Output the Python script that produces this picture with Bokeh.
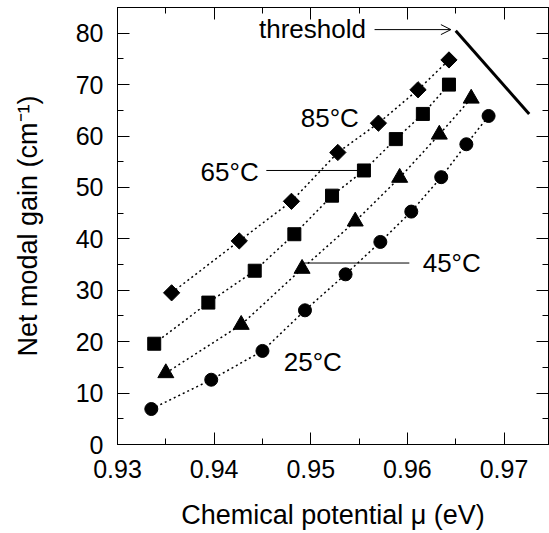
from bokeh.plotting import figure
from bokeh.models import Range1d, LinearAxis, SingleIntervalTicker, Arrow, OpenHead, CustomJSTickFormatter
from bokeh.core.properties import value
from bokeh.embed import file_html
from bokeh.resources import INLINE
import numpy as np

# ---- data ----
mu_85 = [0.9356, 0.9426, 0.9480, 0.9528, 0.9570, 0.9611, 0.9643]
gain_85 = [29.5, 39.6, 47.3, 56.8, 62.5, 69.0, 74.8]

mu_65 = [0.9338, 0.9394, 0.9442, 0.9483, 0.9522, 0.9555, 0.9588, 0.9616, 0.9643]
gain_65 = [19.6, 27.6, 33.8, 40.9, 48.4, 53.3, 59.4, 64.3, 70.0]

mu_45 = [0.9350, 0.9428, 0.9491, 0.9546, 0.9592, 0.9633, 0.9666]
gain_45 = [13.9, 23.3, 34.2, 43.4, 51.9, 60.3, 67.3]

mu_25 = [0.9335, 0.9397, 0.9450, 0.9494, 0.9536, 0.9572, 0.9604, 0.9635, 0.9661, 0.9684]
gain_25 = [6.9, 12.6, 18.2, 26.1, 33.1, 39.4, 45.3, 52.0, 58.4, 63.9]

threshold_mu = [0.9650, 0.9726]
threshold_gain = [80.5, 64.3]

labels = ["85°C", "65°C", "45°C", "25°C"]
label_mu = [0.94896, 0.93860, 0.96158, 0.94720]
label_gain = [63.6, 53.1, 35.3, 16.0]

FONT = "Liberation Sans"

p = figure(width=549, height=533, output_backend="svg", toolbar_location=None,
           x_range=Range1d(0.93, 0.9746), y_range=Range1d(0, 85),
           min_border_left=117, min_border_right=1, min_border_top=7, min_border_bottom=89)
p.xgrid.visible = False
p.ygrid.visible = False
p.outline_line_color = "black"
p.outline_line_width = 1
p.background_fill_color = "white"
p.border_fill_color = "white"

xt = SingleIntervalTicker(interval=0.01, num_minor_ticks=2)
yt = SingleIntervalTicker(interval=10, num_minor_ticks=2)

def style_axis(ax):
    ax.axis_line_color = "black"
    ax.major_tick_line_color = "black"
    ax.minor_tick_line_color = "black"
    ax.major_tick_in = 12
    ax.major_tick_out = 0
    ax.minor_tick_in = 6
    ax.minor_tick_out = 0
    ax.major_label_text_font = FONT
    ax.major_label_text_font_size = "25px"
    ax.major_label_text_color = "black"
    ax.axis_label_text_font = FONT
    ax.axis_label_text_font_size = "27px"
    ax.axis_label_text_font_style = "normal"
    ax.axis_label_text_color = "black"

p.xaxis.ticker = xt
p.yaxis.ticker = yt
style_axis(p.xaxis[0])
style_axis(p.yaxis[0])
p.xaxis.axis_label = "Chemical potential μ (eV)"
p.yaxis.axis_label = "Net modal gain (cm⁻¹)"
p.xaxis.major_label_standoff = 15
p.xaxis.axis_label_standoff = 19
p.yaxis.major_label_standoff = 14
p.yaxis.axis_label_standoff = 30

blank = CustomJSTickFormatter(code="return ''")
top = LinearAxis(ticker=SingleIntervalTicker(interval=0.01, num_minor_ticks=2), formatter=blank)
right = LinearAxis(ticker=SingleIntervalTicker(interval=10, num_minor_ticks=2), formatter=blank)
for ax in (top, right):
    style_axis(ax)
    ax.major_label_standoff = 0
p.add_layout(top, "above")
p.add_layout(right, "right")

dash = "2 3"
series = [
    (mu_85, gain_85, "square", 11.5, np.pi / 4),
    (mu_65, gain_65, "square", 13, 0),
    (mu_45, gain_45, "triangle", 16, 0),
    (mu_25, gain_25, "circle", 13, 0),
]
for mu, g, marker, size, ang in series:
    p.line(mu, g, line_color="black", line_width=1.5, line_dash=dash)
    p.scatter(mu, g, marker=marker, size=size, angle=ang,
              fill_color="black", line_color="black")

# threshold line
p.line(threshold_mu, threshold_gain, line_color="black", line_width=3)

# annotations
p.text(x=label_mu, y=label_gain, text=labels, text_font=value(FONT),
       text_font_size="26px", text_baseline="middle", text_align="left", text_color="black")
p.text(x=[0.94464], y=[80.9], text=["threshold"], text_font=value(FONT),
       text_font_size="26px", text_baseline="middle", text_align="left", text_color="black")
p.add_layout(Arrow(end=OpenHead(size=10, line_width=1, line_color="black"),
                   x_start=0.9566, y_start=80.7, x_end=0.9645, y_end=80.7,
                   line_width=1, line_color="black"))
# leader lines for labels
p.line([0.9454, mu_65[5]], [gain_65[5], gain_65[5]], line_color="black", line_width=1)
p.line([mu_45[2], 0.9602], [35.3, 35.3], line_color="black", line_width=1)

open("out.html", "w").write(file_html(p, INLINE))
